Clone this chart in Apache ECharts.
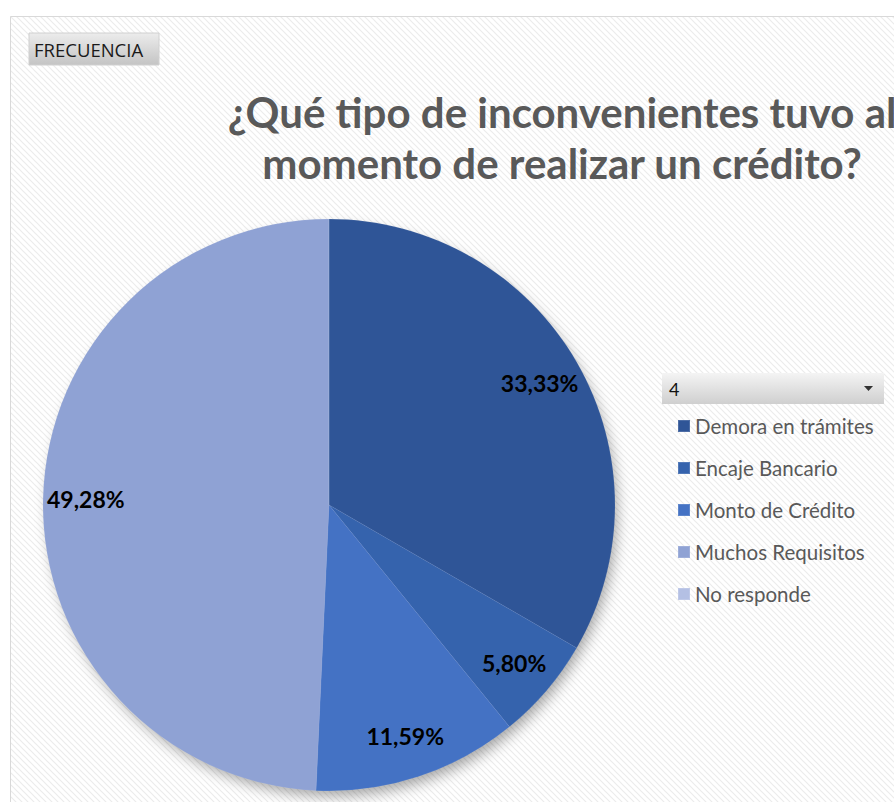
<!DOCTYPE html>
<html><head><meta charset="utf-8">
<script src="https://cdn.jsdelivr.net/npm/echarts@6/dist/echarts.min.js"></script>
<style>html,body{margin:0;padding:0;background:#fff}#c{width:894px;height:802px}</style>
</head><body><div id="c"></div>
<script>
const categories = ['Demora en trámites','Encaje Bancario','Monto de Crédito','Muchos Requisitos','No responde'];
const values = [23, 4, 8, 34, 0];
const colors = ['#2F5597','#3563AD','#4472C4','#8FA2D4','#B4C0E4'];
const titleLines = ['¿Qué tipo de inconvenientes tuvo al', 'momento de realizar un crédito?'];
const filterLabel = 'FRECUENCIA';
const filterValue = '4';

// hatch pattern
const pc = document.createElement('canvas');
pc.width = 6; pc.height = 6;
const g = pc.getContext('2d');
g.fillStyle = '#ffffff'; g.fillRect(0,0,6,6);
g.strokeStyle = '#ececec'; g.lineWidth = 1.2;
g.beginPath(); g.moveTo(-1,-1); g.lineTo(7,7); g.moveTo(-1,5); g.lineTo(1,7); g.moveTo(5,-1); g.lineTo(7,1); g.stroke();
const patternUrl = pc.toDataURL();

const chart = echarts.init(document.getElementById('c'), null, {renderer:'svg'});
const data = categories.map((n,i)=>({name:n, value:values[i], itemStyle:{color:colors[i]}}));
const CX = 329, CY = 505, R = 286;
const fmt = p => p.value ? p.percent.toFixed(2).replace('.', ',') + '%' : '';

chart.setOption({
  animation:false,
  textStyle:{fontFamily:'Lato'},
  graphic:[
    {type:'rect', z:-10, shape:{x:10.5,y:16.5,width:900,height:800}, style:{fill:{image:patternUrl, repeat:'repeat'}, stroke:'#d9d9d9', lineWidth:1}},
    {type:'circle', z:-5, shape:{cx:CX, cy:CY, r:R-2}, style:{fill:'#8FA2D4', shadowBlur:14, shadowOffsetX:4, shadowOffsetY:7, shadowColor:'rgba(0,0,0,0.35)'}},
    {type:'rect', shape:{x:29,y:33,width:130,height:32}, style:{fill:new echarts.graphic.LinearGradient(0,0,0,1,[{offset:0,color:'#ececec'},{offset:1,color:'#c4c4c4'}]), stroke:'#d0d0d0'}},
    {type:'text', x:34, y:49, style:{text:filterLabel, fontSize:18.5, fontFamily:'Open Sans', fill:'#1a1a1a', verticalAlign:'middle', textAlign:'left'}},
    {type:'rect', shape:{x:662,y:373,width:222,height:31}, style:{fill:new echarts.graphic.LinearGradient(0,0,0,1,[{offset:0,color:'#f4f4f4'},{offset:1,color:'#cfcfcf'}])}},
    {type:'text', x:669, y:389, style:{text:filterValue, fontSize:18, fontFamily:'Lato', fill:'#111', verticalAlign:'middle'}},
    {type:'polygon', shape:{points:[[864,386],[873,386],[868.5,391]]}, style:{fill:'#333'}},
    {type:'text', x:562, y:112, style:{text:titleLines[0], fontSize:42, fontWeight:'bold', fontFamily:'Lato', fill:'#595959', textAlign:'center', verticalAlign:'middle'}},
    {type:'text', x:562, y:163, style:{text:titleLines[1], fontSize:42, fontWeight:'bold', fontFamily:'Lato', fill:'#595959', textAlign:'center', verticalAlign:'middle'}}
  ],
  legend:{
    orient:'vertical', left:672, top:410, icon:'rect', itemWidth:12, itemHeight:12, itemGap:20,
    data:categories, selectedMode:false,
    textStyle:{fontSize:20.5, color:'#595959', fontFamily:'Lato', lineHeight:22}
  },
  series:[
    {type:'pie', center:[CX,CY], radius:[0,R], startAngle:90, clockwise:true, data:data,
     label:{show:false}, labelLine:{show:false}, silent:true,
     itemStyle:{borderColor:'rgba(255,255,255,0.15)', borderWidth:0.5}},
    {type:'pie', center:[CX,CY], radius:[R*0.68,R], startAngle:90, clockwise:true, silent:true,
     legendHoverLink:false,
     data:categories.map((n,i)=>({name:n, value:values[i]})),
     itemStyle:{color:'rgba(0,0,0,0)'},
     label:{show:true, position:'inside', formatter:fmt, fontSize:23, fontWeight:'bold', color:'#000', fontFamily:'Lato'},
     labelLine:{show:false}}
  ]
});
</script></body></html>
